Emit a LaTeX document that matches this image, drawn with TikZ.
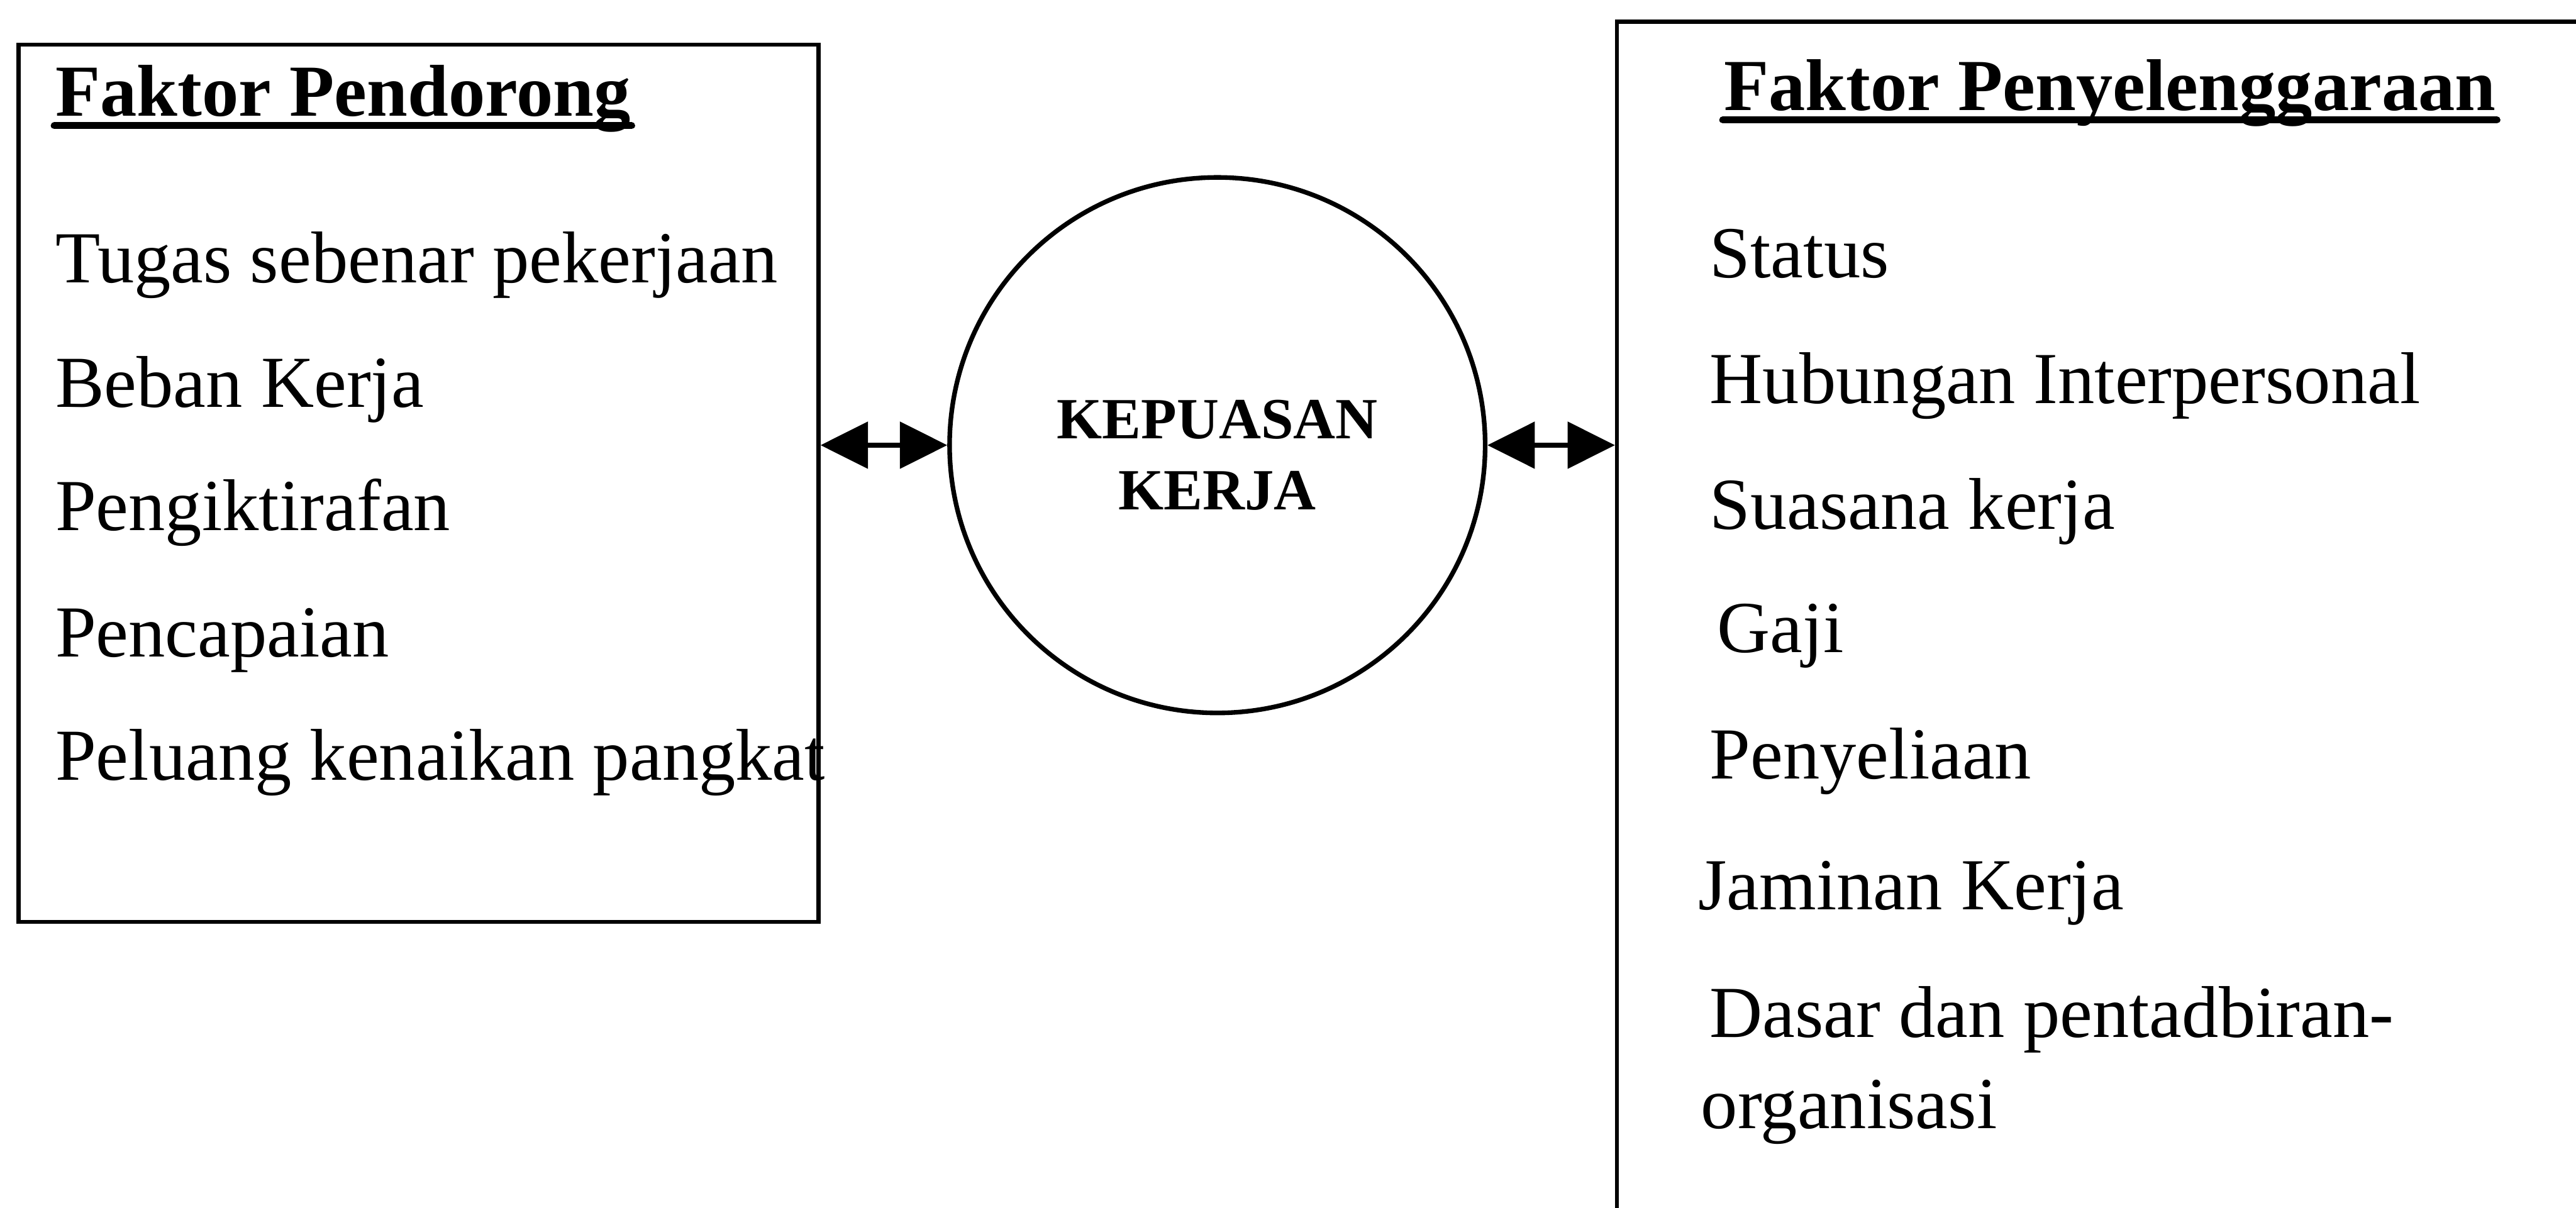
\documentclass[tikz,border=0pt]{standalone}
\usepackage{fontspec}
\setmainfont{Liberation Serif}
\usepackage{tikz}
\usetikzlibrary{arrows.meta}

\begin{document}
\begin{tikzpicture}[
  frame/.style={draw, rectangle, line width=0.7pt, inner sep=0pt},
  item/.style={anchor=base west, inner sep=0pt,
               font=\fontsize{12.7}{15}\selectfont},
  head/.style={anchor=base west, inner sep=0pt,
               font=\fontsize{12.7}{15}\selectfont\bfseries},
  uline/.style={line width=1.2pt, line cap=round},
  hub/.style={draw, circle, line width=0.8pt, minimum size=3.26cm, inner sep=0pt},
  hubtext/.style={align=center, inner sep=0pt,
                  font=\fontsize{10.1}{12.3}\selectfont\bfseries},
  arr/.style={{Triangle[length=8.2pt, width=8pt]}-{Triangle[length=8.2pt, width=8pt]},
              line width=0.8pt}
]
\useasboundingbox (0,0) rectangle (15.68,7.35);
\clip (0,0) rectangle (15.68,7.35);

% ── Left box: motivating factors ──
\node[frame, anchor=north west, minimum width=4.87cm, minimum height=5.34cm]
     (pendorong) at (0.10, 7.09) {};
\node[head] (hdrL) at (0.33, 6.645) {Faktor Pendorong};
\draw[uline] ([yshift=-1.7pt]hdrL.base west) -- ([yshift=-1.7pt]hdrL.base east);

\node[item] (tugas)   at (0.33, 5.63) {Tugas sebenar pekerjaan};
\node[item] (beban)   at (0.33, 4.87) {Beban Kerja};
\node[item] (iktiraf) at (0.33, 4.12) {Pengiktirafan};
\node[item] (capai)   at (0.33, 3.35) {Pencapaian};
\node[item] (peluang) at (0.33, 2.60) {Peluang kenaikan pangkat};

% ── Centre: job satisfaction ──
\node[hub] (kepuasan) at (7.41, 4.64) {};
\node[hubtext] (kepuasanlbl) at ([yshift=-0.06cm]kepuasan.center) {KEPUASAN\\KERJA};

% ── Right box: hygiene factors (runs past the page edge) ──
\node[frame, anchor=north west, minimum width=6.8cm, minimum height=7.9cm]
     (penyelenggaraan) at (9.83, 7.23) {};
\node[head] (hdrR) at (10.486, 6.68) {Faktor Penyelenggaraan};
\draw[uline] ([yshift=-1.7pt]hdrR.base west) -- ([yshift=-1.7pt]hdrR.base east);

\node[item] (status)   at (10.40, 5.66)  {Status};
\node[item] (hubungan) at (10.40, 4.894) {Hubungan Interpersonal};
\node[item] (suasana)  at (10.40, 4.130) {Suasana kerja};
\node[item] (gaji)     at (10.446, 3.38) {Gaji};
\node[item] (selia)    at (10.40, 2.61)  {Penyeliaan};
\node[item] (jaminan)  at (10.33, 1.814) {Jaminan Kerja};
\node[item] (dasar)    at (10.40, 1.035) {Dasar dan pentadbiran-};
\node[item] (organ)    at (10.347, 0.482) {organisasi};

% ── Two-way links ──
\draw[arr] (kepuasan.west -| pendorong.east) -- (kepuasan.west);
\draw[arr] (kepuasan.east) -- (kepuasan.east -| penyelenggaraan.west);

\end{tikzpicture}
\end{document}
